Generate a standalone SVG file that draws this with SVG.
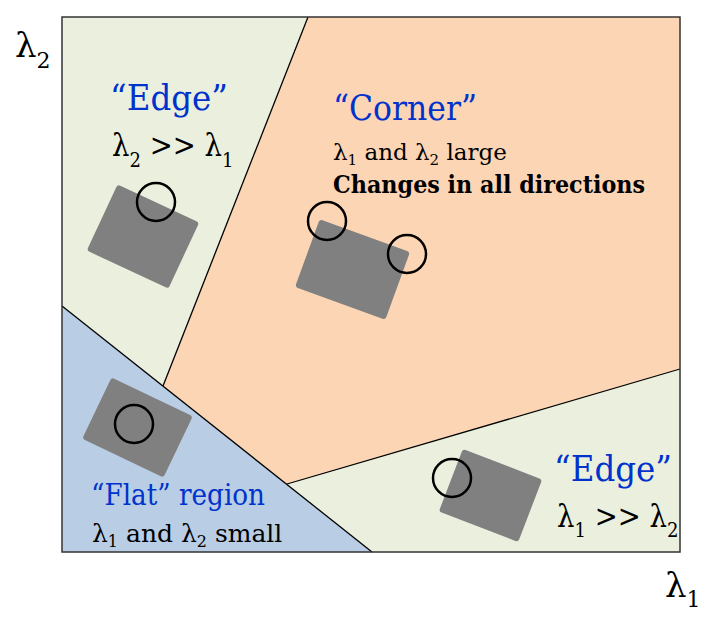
<svg xmlns="http://www.w3.org/2000/svg" width="709" height="617" viewBox="0 0 709 617">
<style>
text{font-family:'DejaVu Serif','Liberation Serif',serif;fill:#000}
.b{fill:#0033CC}
.sq{fill:#808080}
.c{fill:none;stroke:#000;stroke-width:2.5}
.ln{fill:none;stroke:#000;stroke-width:1.3}
</style>
<rect width="709" height="617" fill="#fff"/>
<g id="regions">
<polygon id="edge-top" points="62,17 308,17 163,386 62,306" fill="#EBF0DE"/>
<polygon id="corner" points="308,17 680,17 680,369 287,484 163,386" fill="#FCD5B5"/>
<polygon id="edge-bottom" points="287,484 680,369 680,552 372,552" fill="#EBF0DE"/>
<polygon id="flat" points="62,306 372,552 62,552" fill="#B9CDE5"/>
</g>
<g id="connectors">
<line class="ln" x1="308" y1="17" x2="163" y2="386"/>
<line class="ln" x1="62" y1="306" x2="372" y2="552"/>
<line class="ln" x1="287" y1="484" x2="680" y2="369"/>
<rect x="62" y="17" width="618" height="535" fill="none" stroke="#333" stroke-width="1.5"/>
</g>
<g id="node-edge-top">
<rect class="sq" x="-45" y="-36.5" width="90" height="73" rx="3" transform="translate(143,236.5) rotate(25)"/>
<circle class="c" cx="156" cy="202" r="19"/>
<text class="b" x="110" y="110" font-size="36" textLength="118" lengthAdjust="spacingAndGlyphs">“Edge”</text>
<text font-size="32" transform="translate(112,156) scale(0.86,1)">λ<tspan font-size="21" dy="11">2</tspan><tspan dy="-11"> &gt;&gt; λ</tspan><tspan font-size="21" dy="11">1</tspan></text>
</g>
<g id="node-corner">
<rect class="sq" x="-48" y="-36" width="96" height="72" rx="3" transform="translate(352.5,269.5) rotate(20)"/>
<circle class="c" cx="327" cy="221" r="19"/>
<circle class="c" cx="407" cy="254" r="19"/>
<text class="b" x="333" y="120" font-size="36" textLength="144" lengthAdjust="spacingAndGlyphs">“Corner”</text>
<text font-size="23" x="333" y="160">λ<tspan font-size="15" dy="5">1</tspan><tspan dy="-5"> and λ</tspan><tspan font-size="15" dy="5">2</tspan><tspan dy="-5"> large</tspan></text>
<text x="333" y="193" font-size="24" font-weight="bold" textLength="312" lengthAdjust="spacingAndGlyphs">Changes in all directions</text>
</g>
<g id="node-flat">
<rect class="sq" x="-45" y="-34" width="90" height="68" rx="3" transform="translate(137.5,427.5) rotate(25.5)"/>
<circle class="c" cx="134" cy="424" r="19"/>
<text class="b" x="91" y="505" font-size="29" textLength="174" lengthAdjust="spacingAndGlyphs">“Flat” region</text>
<text font-size="25" x="92" y="542">λ<tspan font-size="16" dy="5">1</tspan><tspan dy="-5"> and λ</tspan><tspan font-size="16" dy="5">2</tspan><tspan dy="-5"> small</tspan></text>
</g>
<g id="node-edge-bottom">
<rect class="sq" x="-42.5" y="-33.5" width="85" height="67" rx="3" transform="translate(490.5,495.5) rotate(21)"/>
<circle class="c" cx="452" cy="478" r="19"/>
<text class="b" x="554" y="481" font-size="36" textLength="118" lengthAdjust="spacingAndGlyphs">“Edge”</text>
<text font-size="32" transform="translate(557,527) scale(0.86,1)">λ<tspan font-size="21" dy="10">1</tspan><tspan dy="-10"> &gt;&gt; λ</tspan><tspan font-size="21" dy="10">2</tspan></text>
</g>
<g id="axes">
<text font-size="34" x="15" y="57">λ<tspan font-size="22" dy="11">2</tspan></text>
<text font-size="34" x="665" y="597">λ<tspan font-size="22" dy="10">1</tspan></text>
</g>
</svg>
